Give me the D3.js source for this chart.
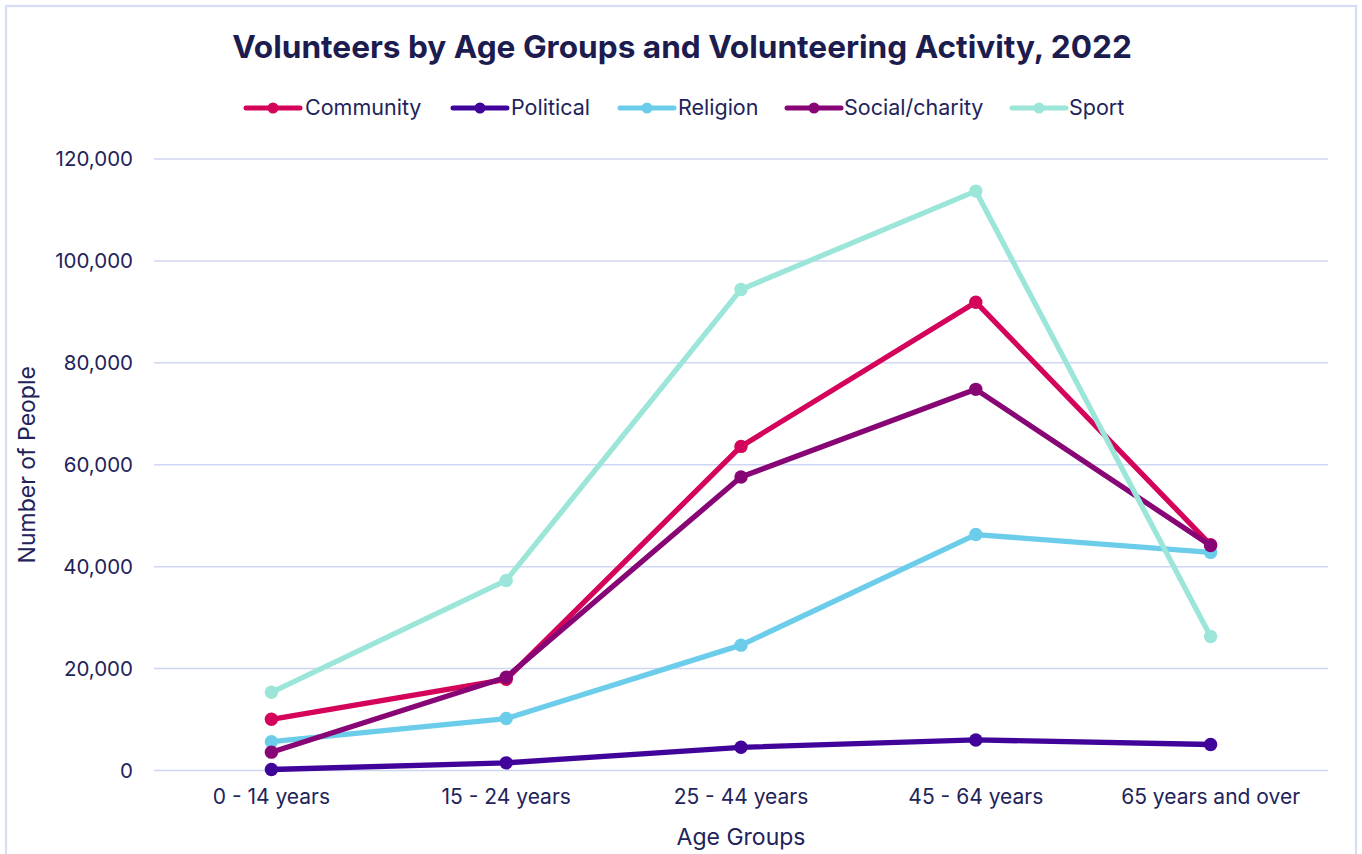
<!DOCTYPE html>
<html>
<head>
<meta charset="utf-8">
<script src="https://cdn.jsdelivr.net/npm/d3@7"></script>
<style>
  html, body { margin: 0; padding: 0; background: #ffffff; }
  svg { display: block; font-family: Inter, "Noto Sans", sans-serif; }
</style>
</head>
<body>
<svg id="chart" width="1362" height="854"></svg>
<script>
// Age groups on the x axis
const ageGroups = ["0 - 14 years", "15 - 24 years", "25 - 44 years", "45 - 64 years", "65 years and over"];

// Volunteers per activity, one value per age group
const community = [10050, 17900, 63600, 91900, 44300];
const political = [200, 1500, 4550, 6000, 5100];
const religion = [5650, 10200, 24600, 46300, 42800];
const socialCharity = [3600, 18300, 57600, 74800, 44150];
const sport = [15350, 37300, 94400, 113700, 26300];

const seriesNames = ["Community", "Political", "Religion", "Social/charity", "Sport"];
const seriesColors = ["#d4045a", "#41049a", "#6ccdea", "#870575", "#9be6d8"];
const yTicks = [0, 20000, 40000, 60000, 80000, 100000, 120000];

const series = [community, political, religion, socialCharity, sport].map((values, i) => ({
  name: seriesNames[i],
  color: seriesColors[i],
  values
}));

const svg = d3.select("#chart");
const W = 1362, H = 854;
const margin = { left: 154, right: 34, top: 159, bottom: 83.5 };
const textColor = "#22235a";
const gridColor = "#cfd6f2";

// outer frame
svg.append("rect")
  .attr("x", 6).attr("y", 6)
  .attr("width", 1350).attr("height", 870)
  .attr("fill", "none")
  .attr("stroke", "#d7ddf7")
  .attr("stroke-width", 2.2);

const x = d3.scaleBand()
  .domain(ageGroups)
  .range([margin.left, W - margin.right]);

const y = d3.scaleLinear()
  .domain([0, 120000])
  .range([H - margin.bottom, margin.top]);

// gridlines
svg.append("g")
  .selectAll("line")
  .data(yTicks)
  .join("line")
  .attr("x1", margin.left)
  .attr("x2", W - margin.right)
  .attr("y1", d => y(d))
  .attr("y2", d => y(d))
  .attr("stroke", gridColor)
  .attr("stroke-width", 1.5);

// y axis labels
const yAxis = d3.axisLeft(y)
  .tickValues(yTicks)
  .tickFormat(d3.format(","))
  .tickSize(0)
  .tickPadding(21);
const gy = svg.append("g")
  .attr("transform", `translate(${margin.left},0)`)
  .call(yAxis);
gy.select(".domain").remove();
gy.selectAll("text")
  .attr("fill", textColor)
  .style("font-size", "20.5px")
  .style("font-family", "Inter, sans-serif");

// x axis labels
const xAxis = d3.axisBottom(x).tickSize(0).tickPadding(19);
const gx = svg.append("g")
  .attr("transform", `translate(0,${H - margin.bottom})`)
  .call(xAxis);
gx.select(".domain").remove();
gx.selectAll("text")
  .attr("fill", textColor)
  .style("font-size", "21px")
  .style("font-family", "Inter, sans-serif");

// axis titles
svg.append("text")
  .attr("x", x(ageGroups[2]) + x.bandwidth() / 2)
  .attr("y", 845)
  .attr("text-anchor", "middle")
  .attr("fill", textColor)
  .style("font-size", "23px")
  .text("Age Groups");

svg.append("text")
  .attr("transform", `translate(35,${(margin.top + H - margin.bottom) / 2}) rotate(-90)`)
  .attr("text-anchor", "middle")
  .attr("fill", textColor)
  .style("font-size", "23px")
  .text("Number of People");

// title
const title = svg.append("text")
  .attr("x", 682)
  .attr("y", 58)
  .attr("text-anchor", "middle")
  .attr("fill", "#1c1c4f")
  .style("font-size", "29px")
  .style("font-weight", "700")
  .text("Volunteers by Age Groups and Volunteering Activity, 2022");
const tw = title.node().getComputedTextLength();
title.style("font-size", (29 * 900 / tw).toFixed(2) + "px");

// series lines and markers
const cx = d => x(d) + x.bandwidth() / 2;
const line = d3.line()
  .x((v, i) => cx(ageGroups[i]))
  .y(v => y(v));

const plot = svg.append("g");
series.forEach(s => {
  const g = plot.append("g");
  g.append("path")
    .datum(s.values)
    .attr("d", line)
    .attr("fill", "none")
    .attr("stroke", s.color)
    .attr("stroke-width", 5.3)
    .attr("stroke-linejoin", "round")
    .attr("stroke-linecap", "round");
  g.selectAll("circle")
    .data(s.values)
    .join("circle")
    .attr("cx", (v, i) => cx(ageGroups[i]))
    .attr("cy", v => y(v))
    .attr("r", 6.7)
    .attr("fill", s.color);
});

// legend
const legendItems = [
  { x: 246, tx: 305 },
  { x: 453, tx: 511 },
  { x: 620, tx: 678 },
  { x: 787, tx: 844 },
  { x: 1012, tx: 1069 }
];
const legend = svg.append("g");
series.forEach((s, i) => {
  const it = legendItems[i];
  const g = legend.append("g");
  g.append("line")
    .attr("x1", it.x).attr("x2", it.x + 54)
    .attr("y1", 108).attr("y2", 108)
    .attr("stroke", s.color)
    .attr("stroke-width", 5)
    .attr("stroke-linecap", "round");
  g.append("circle")
    .attr("cx", it.x + 27).attr("cy", 108)
    .attr("r", 5.5)
    .attr("fill", s.color);
  g.append("text")
    .attr("x", it.tx)
    .attr("y", 115)
    .attr("fill", textColor)
    .style("font-size", "21.5px")
    .text(s.name);
});
</script>
</body>
</html>
